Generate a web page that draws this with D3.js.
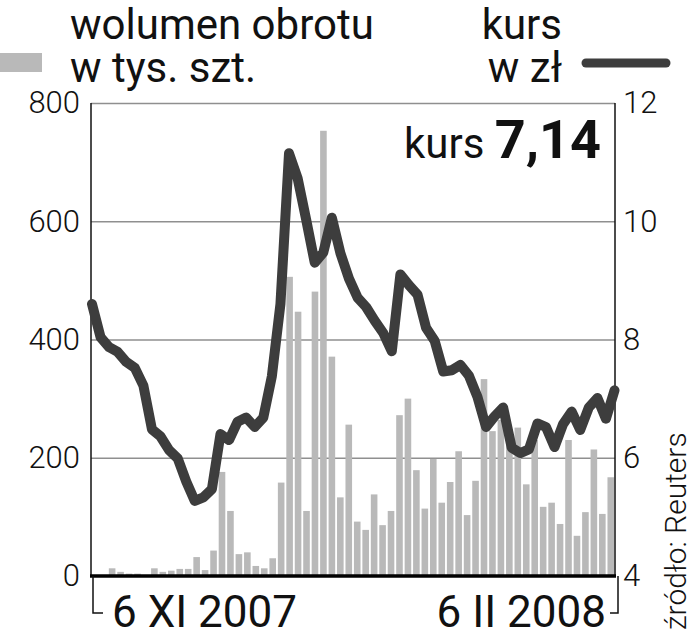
<!DOCTYPE html>
<html>
<head>
<meta charset="utf-8">
<script src="https://cdn.jsdelivr.net/npm/d3@7"></script>
<style>
  body { margin: 0; background: #fff; }
  svg text { font-family: Roboto, "Noto Sans", sans-serif; fill: #111; }
</style>
</head>
<body>
<div id="chart"></div>
<script>
var svgWidth = 692;
var svgHeight = 640;

// plot frame
var margin = { top: 103, right: 77, bottom: 64, left: 91 };
var width = svgWidth - margin.left - margin.right;
var height = svgHeight - margin.top - margin.bottom;

// sessions 6 XI 2007 - 6 II 2008
var sessions = [
  "2007-11-06","2007-11-07","2007-11-08","2007-11-09","2007-11-12","2007-11-13","2007-11-14",
  "2007-11-15","2007-11-16","2007-11-19","2007-11-20","2007-11-21","2007-11-22","2007-11-23",
  "2007-11-26","2007-11-27","2007-11-28","2007-11-29","2007-11-30",
  "2007-12-03","2007-12-04","2007-12-05","2007-12-06","2007-12-07","2007-12-10","2007-12-11",
  "2007-12-12","2007-12-13","2007-12-14","2007-12-17","2007-12-18","2007-12-19","2007-12-20",
  "2007-12-21","2007-12-27","2007-12-28",
  "2008-01-02","2008-01-03","2008-01-04","2008-01-07","2008-01-08","2008-01-09","2008-01-10",
  "2008-01-11","2008-01-14","2008-01-15","2008-01-16","2008-01-17","2008-01-18","2008-01-21",
  "2008-01-22","2008-01-23","2008-01-24","2008-01-25","2008-01-28","2008-01-29","2008-01-30",
  "2008-01-31","2008-02-01","2008-02-04","2008-02-05","2008-02-06"
];

// wolumen obrotu, tys. szt.
var volume = [
  0, 0, 13, 7, 4, 4, 0, 13, 7, 9, 12, 12, 32, 10, 43, 176, 110, 37, 40, 17,
  13, 30, 158, 506, 447, 110, 481, 753, 371, 133, 256, 92, 78, 138, 86, 110, 272, 300, 179, 114,
  198, 124, 159, 211, 103, 161, 333, 245, 264, 225, 251, 155, 230, 117, 124, 88, 230, 68, 108, 214,
  105, 167
];

// kurs, zł
var price = [
  8.60, 8.04, 7.87, 7.79, 7.62, 7.52, 7.22, 6.48, 6.36, 6.13, 5.99, 5.60, 5.27, 5.33, 5.47, 6.40,
  6.30, 6.61, 6.68, 6.52, 6.68, 7.38, 8.60, 11.15, 10.73, 10.03, 9.30, 9.47, 10.06, 9.46, 9.03, 8.71,
  8.55, 8.32, 8.11, 7.80, 9.10, 8.92, 8.76, 8.20, 7.98, 7.46, 7.48, 7.57, 7.39, 7.03, 6.52, 6.70,
  6.85, 6.17, 6.08, 6.14, 6.58, 6.52, 6.18, 6.57, 6.78, 6.47, 6.85, 7.01, 6.66, 7.14
];

var volTicks = [0, 200, 400, 600, 800];
var priceTicks = [4, 6, 8, 10, 12];
var xLabels = ["6 XI 2007", "6 II 2008"];

var svg = d3.select("#chart")
  .append("svg")
  .attr("width", svgWidth)
  .attr("height", svgHeight);

var chartGroup = svg.append("g")
  .attr("transform", `translate(${margin.left}, ${margin.top})`);

// scales
var xBand = d3.scaleBand()
  .domain(sessions)
  .range([0, width])
  .paddingInner(0.22)
  .paddingOuter(0.11);

var xPoint = d3.scalePoint()
  .domain(sessions)
  .range([1, width - 0.5]);

var yVol = d3.scaleLinear().domain([0, 800]).range([height, 0]);
var yPrice = d3.scaleLinear().domain([4, 12]).range([height, 0]);

// gridlines
var grid = chartGroup.append("g")
  .call(d3.axisLeft(yVol).tickValues(volTicks.slice(1)).tickSize(-width).tickFormat(""));
grid.select(".domain").remove();
grid.selectAll("line").attr("stroke", "#8f8f8f").attr("stroke-width", 1.5);

// bars
chartGroup.selectAll(".bar")
  .data(volume)
  .enter()
  .append("rect")
  .attr("class", "bar")
  .attr("x", (d, i) => xBand(sessions[i]))
  .attr("width", xBand.bandwidth())
  .attr("y", d => yVol(d))
  .attr("height", d => height - yVol(d))
  .attr("fill", "#b9b9b9");

// frame
chartGroup.append("line")
  .attr("x1", 0).attr("x2", 0).attr("y1", 0).attr("y2", height)
  .attr("stroke", "#111").attr("stroke-width", 1.5);
chartGroup.append("line")
  .attr("x1", width).attr("x2", width).attr("y1", 0).attr("y2", height)
  .attr("stroke", "#111").attr("stroke-width", 1.5);

// price line
var line = d3.line()
  .x((d, i) => xPoint(sessions[i]))
  .y(d => yPrice(d))
  .curve(d3.curveLinear);

chartGroup.append("path")
  .datum(price)
  .attr("d", line)
  .attr("fill", "none")
  .attr("stroke", "#3d3d3d")
  .attr("stroke-width", 10)
  .attr("stroke-linejoin", "round")
  .attr("stroke-linecap", "round");

// baseline
chartGroup.append("line")
  .attr("x1", -1).attr("x2", width + 1).attr("y1", height).attr("y2", height)
  .attr("stroke", "#000").attr("stroke-width", 3.5);

// axes
var leftAxis = chartGroup.append("g")
  .call(d3.axisLeft(yVol).tickValues(volTicks).tickSize(0).tickPadding(11));
var rightAxis = chartGroup.append("g")
  .attr("transform", `translate(${width}, 0)`)
  .call(d3.axisRight(yPrice).tickValues(priceTicks).tickSize(0).tickPadding(8));

[leftAxis, rightAxis].forEach(function(ax) {
  ax.select(".domain").remove();
  ax.selectAll("text")
    .attr("font-family", "Roboto, sans-serif")
    .attr("font-size", "31px")
    .attr("font-weight", 300)
    .attr("fill", "#111");
});

// date brackets under the axis
var firstX = 2;
var lastX = width + 3;
chartGroup.append("path")
  .attr("d", `M${firstX},${height} V${height + 37} H${firstX + 10}`)
  .attr("fill", "none").attr("stroke", "#111").attr("stroke-width", 1.5);
chartGroup.append("path")
  .attr("d", `M${lastX},${height} V${height + 37} H${lastX - 8}`)
  .attr("fill", "none").attr("stroke", "#111").attr("stroke-width", 1.5);

chartGroup.append("text")
  .attr("x", firstX + 19)
  .attr("y", height + 51)
  .attr("font-size", "44px")
  .text(xLabels[0]);

chartGroup.append("text")
  .attr("x", lastX - 12)
  .attr("y", height + 51)
  .attr("text-anchor", "end")
  .attr("font-size", "44px")
  .text(xLabels[1]);

// current price
var lastLabel = chartGroup.append("text")
  .attr("x", width - 14)
  .attr("y", 55)
  .attr("text-anchor", "end");
lastLabel.append("tspan")
  .attr("font-size", "42px")
  .text("kurs ");
lastLabel.append("tspan")
  .attr("font-size", "54px")
  .attr("font-weight", 700)
  .text(price[price.length - 1].toFixed(2).replace(".", ","));

// legend
svg.append("rect")
  .attr("x", 0).attr("y", 53).attr("width", 42).attr("height", 19)
  .attr("fill", "#b9b9b9");
svg.append("text").attr("x", 70).attr("y", 39).attr("font-size", "42px").text("wolumen obrotu");
svg.append("text").attr("x", 70).attr("y", 82).attr("font-size", "42px").text("w tys. szt.");

svg.append("text").attr("x", 562).attr("y", 39).attr("text-anchor", "end").attr("font-size", "42px").text("kurs");
svg.append("text").attr("x", 562).attr("y", 82).attr("text-anchor", "end").attr("font-size", "42px").text("w zł");
svg.append("line")
  .attr("x1", 586).attr("x2", 666).attr("y1", 63).attr("y2", 63)
  .attr("stroke", "#3d3d3d").attr("stroke-width", 9).attr("stroke-linecap", "round");

// source
svg.append("text")
  .attr("transform", "translate(686, 630) rotate(-90)")
  .attr("font-size", "30px")
  .attr("font-weight", 300)
  .text("źródło: Reuters");
</script>
</body>
</html>
